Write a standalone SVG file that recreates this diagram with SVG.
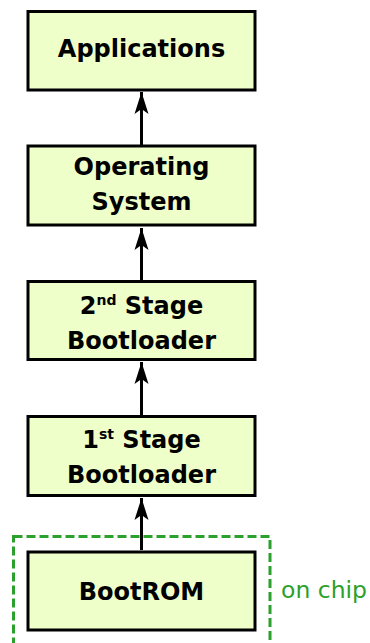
<svg xmlns="http://www.w3.org/2000/svg" width="370" height="643" viewBox="0 0 370 643">
<style>
.box{fill:#eeffc9;stroke:#000;stroke-width:3}
.lbl{font-family:"DejaVu Sans",sans-serif;font-weight:bold;font-size:24px;text-anchor:middle;fill:#000}
.sup{font-size:14px}
.conn{stroke:#000;stroke-width:3;fill:none}
.chip{fill:none;stroke:#2ca02c;stroke-width:3;stroke-dasharray:9,4}
.chiptxt{font-family:"DejaVu Sans",sans-serif;font-size:23.5px;fill:#2ca02c}
</style>
<defs>
<marker id="ah" markerUnits="userSpaceOnUse" viewBox="-9 -2 18 26" refX="0" refY="0" markerWidth="18" markerHeight="26" orient="0">
<path d="M0,0 L7,22 L0,17 L-7,22 Z" fill="#000"/>
</marker>
</defs>
<g id="onchip">
<rect class="chip" x="13.5" y="536.5" width="256.5" height="130"/>
<text class="chiptxt" x="281" y="597.5">on chip</text>
</g>
<g id="connectors">
<line class="conn" x1="141.5" y1="550" x2="141.5" y2="498" marker-end="url(#ah)"/>
<line class="conn" x1="141.5" y1="415" x2="141.5" y2="362" marker-end="url(#ah)"/>
<line class="conn" x1="141.5" y1="280" x2="141.5" y2="228" marker-end="url(#ah)"/>
<line class="conn" x1="141.5" y1="145" x2="141.5" y2="92" marker-end="url(#ah)"/>
</g>
<g id="applications">
<rect class="box" x="28" y="11.5" width="227" height="78.5"/>
<text class="lbl" x="141.5" y="57">Applications</text>
</g>
<g id="os">
<rect class="box" x="28" y="146" width="227" height="79"/>
<text class="lbl" x="141.5" y="174.5">Operating</text>
<text class="lbl" x="141.5" y="209.5">System</text>
</g>
<g id="stage2">
<rect class="box" x="28" y="281.5" width="227" height="78"/>
<text class="lbl" x="141.5" y="313.5">2<tspan class="sup" dy="-9">nd</tspan><tspan dy="9"> Stage</tspan></text>
<text class="lbl" x="141.5" y="348.5">Bootloader</text>
</g>
<g id="stage1">
<rect class="box" x="28" y="416.5" width="227" height="79"/>
<text class="lbl" x="141.5" y="447.5">1<tspan class="sup" dy="-9">st</tspan><tspan dy="9"> Stage</tspan></text>
<text class="lbl" x="141.5" y="482.5">Bootloader</text>
</g>
<g id="bootrom">
<rect class="box" x="28" y="552" width="227" height="78"/>
<text class="lbl" x="141.5" y="600">BootROM</text>
</g>
</svg>
